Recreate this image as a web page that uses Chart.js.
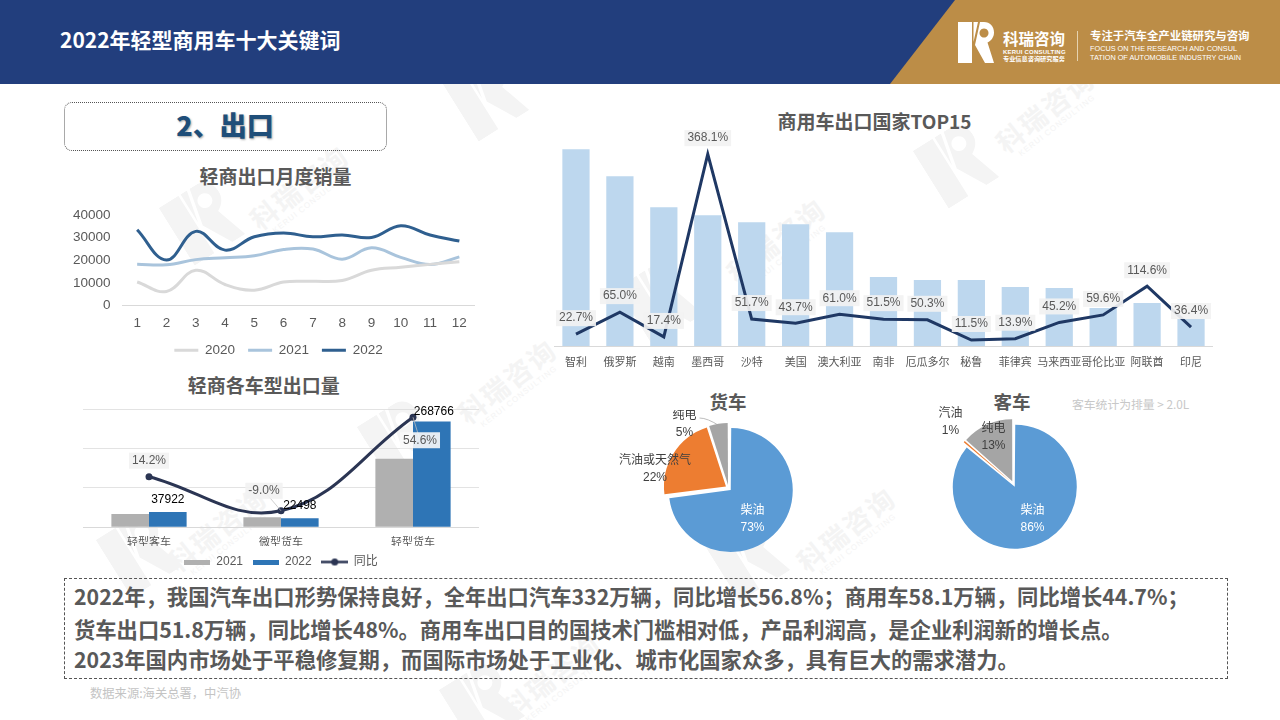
<!DOCTYPE html>
<html lang="zh-CN"><head><meta charset="utf-8">
<script src="https://cdn.jsdelivr.net/npm/chart.js@4/dist/chart.umd.min.js"></script>
<style>
html,body{margin:0;padding:0;background:#fff;}
#page{position:relative;width:1280px;height:720px;overflow:hidden;background:#fff;font-family:"Noto Sans CJK SC","Noto Sans",sans-serif;}
#page>*{position:absolute;}
canvas{position:absolute;display:block;}
.t{white-space:nowrap;line-height:1;}
.ttl{font-weight:700;color:#595959;transform:translate(-50%,-58%);white-space:nowrap;line-height:1;}
.body{left:74px;font-size:21.300px;font-weight:700;color:#595959;white-space:nowrap;line-height:1;transform:translateY(-58%);}
.wmR{width:60px;height:68px;color:#f4f4f4;transform:translate(-50%,-50%) rotate(-32deg);}
.wmT{color:#f4f4f4;font-weight:700;font-size:27px;letter-spacing:2px;transform:translate(-50%,-50%) rotate(-38deg);white-space:nowrap;text-align:center;line-height:1;}
.wmT small{display:block;font-size:8px;letter-spacing:1px;font-weight:400;margin-top:3px;font-family:"Liberation Sans";}
</style></head><body>
<div id="page">
  <svg width="0" height="0" style="position:absolute"><defs>
    <symbol id="rlogo" viewBox="0 0 36 41"><path fill="currentColor" fill-rule="evenodd" d="M0 0H14V41H0ZM15.5 0H20L15.5 20ZM22 0H26C32 0 36 4.500 36 10.500C36 15 33.500 18.500 29.500 20.500L36 41H27L17 23ZM26 6.500A4.500 4.500 0 1 0 26.010 6.500Z"/></symbol>
  </defs></svg>
  <div id="wm" style="left:0;top:0;width:1280px;height:720px"></div>

  <div style="left:0;top:0;width:1280px;height:84px;background:#223e7d"></div>
  <div style="left:0;top:0;width:1280px;height:84px;background:#bc8d47;clip-path:polygon(955px 0,1280px 0,1280px 84px,890px 84px)"></div>
  <div class="t" style="left:60px;top:41px;transform:translateY(-58%);font-size:21px;font-weight:700;color:#fff">2022年轻型商用车十大关键词</div>
  <svg style="left:958px;top:22px;width:36px;height:41px;color:#fff"><use href="#rlogo"/></svg>
  <div class="t" style="left:1003px;top:40px;transform:translateY(-58%);font-size:15.500px;font-weight:700;color:#fff">科瑞咨询</div>
  <div class="t" style="left:1003px;top:52px;transform:translateY(-50%);font-size:6px;font-weight:700;letter-spacing:.2px;color:#fff;font-family:'Liberation Sans'">KERUI CONSULTING</div>
  <div class="t" style="left:1003px;top:59px;transform:translateY(-50%);font-size:6.200px;font-weight:700;color:#fff">专业信息咨询研究服务</div>
  <div style="left:1077px;top:31px;width:1px;height:30px;background:#e6d3b0"></div>
  <div class="t" style="left:1090px;top:37px;transform:translateY(-58%);font-size:11.400px;font-weight:700;color:#fff">专注于汽车全产业链研究与咨询</div>
  <div class="t" style="left:1090px;top:49px;transform:translateY(-50%);font-size:7.300px;color:#fff;font-family:'Liberation Sans'">FOCUS ON THE RESEARCH AND CONSUL</div>
  <div class="t" style="left:1090px;top:58px;transform:translateY(-50%);font-size:7.300px;color:#fff;font-family:'Liberation Sans'">TATION OF AUTOMOBILE INDUSTRY CHAIN</div>

  <div style="left:64px;top:102px;width:321px;height:47px;border:1px dotted #555;border-radius:8px"></div>
  <div class="ttl" style="left:225px;top:127px;font-size:27px;font-weight:900;color:#1f4e79;text-shadow:1px 1px 2px rgba(60,60,60,.45)">2、出口</div>

  <div class="ttl" style="left:275.500px;top:177px;font-size:19px">轻商出口月度销量</div>
  <div class="ttl" style="left:263.700px;top:386px;font-size:19px">轻商各车型出口量</div>
  <div class="ttl" style="left:874.500px;top:122px;font-size:19px">商用车出口国家TOP15</div>
  <div class="ttl" style="left:728px;top:403px;font-size:18.500px">货车</div>
  <div class="ttl" style="left:1012px;top:403px;font-size:18.500px">客车</div>
  <div class="t" style="left:1072px;top:405px;transform:translateY(-58%);font-size:11.800px;color:#c8c8c8">客车统计为排量 &gt; 2.0L</div>

  <canvas id="c1" width="425" height="172" style="left:60px;top:195px"></canvas>
  <canvas id="c2" width="396" height="183" style="left:83px;top:395px"></canvas>
  <canvas id="c3" width="659" height="275" style="left:554px;top:100px"></canvas>
  <canvas id="c4" width="257" height="156" style="left:600px;top:410px"></canvas>
  <canvas id="c5" width="257" height="156" style="left:885px;top:406px"></canvas>

  <div style="left:64px;top:578px;width:1162px;height:99px;border:1px dashed #555"></div>
  <div class="body" style="top:597px">2022年，我国汽车出口形势保持良好，全年出口汽车332万辆，同比增长56.8%；商用车58.1万辆，同比增长44.7%；</div>
  <div class="body" style="top:630px">货车出口51.8万辆，同比增长48%。商用车出口目的国技术门槛相对低，产品利润高，是企业利润新的增长点。</div>
  <div class="body" style="top:660px">2023年国内市场处于平稳修复期，而国际市场处于工业化、城市化国家众多，具有巨大的需求潜力。</div>
  <div class="t" style="left:90px;top:694px;transform:translateY(-58%);font-size:12.300px;color:#c4c4c4">数据来源:海关总署，中汽协</div>
</div>
<script>
// ---------- data ----------
const months = ['1','2','3','4','5','6','7','8','9','10','11','12'];
const sales2020 = [10400,6200,15600,9300,6800,10400,10700,11100,15600,16900,18200,19400];
const sales2021 = [18200,18000,20300,21100,22000,24800,25000,20500,25500,21300,18100,21500];
const sales2022 = [33500,20100,32800,24500,30400,32100,30400,31200,30100,35300,31200,28500];
const monthlyYears = ['2020','2021','2022'];

const vehicleTypes = ['轻型客车','微型货车','轻型货车'];
const type2021 = [33207,24723,173846];
const type2022 = [37922,22498,268766];
const typeYoY = [14.2,-9.0,54.6];
const typeYoYText = ['14.2%','-9.0%','54.6%'];

const countries = ['智利','俄罗斯','越南','墨西哥','沙特','美国','澳大利亚','南非','厄瓜多尔','秘鲁','菲律宾','马来西亚','哥伦比亚','阿联酋','印尼'];
const countryVolume = [59100,51000,41700,39300,37200,36600,34200,20700,19800,19800,17700,17400,11400,12900,8100];
const countryYoY = [22.7,65.0,17.4,368.1,51.7,43.7,61.0,51.5,50.3,11.5,13.9,45.2,59.6,114.6,36.4];

const fuelTypes = ['柴油','汽油或天然气','纯电'];
const truckShare = [73,22,5];
const coachFuelTypes = ['柴油','汽油','纯电'];
const coachShare = [86,0.6,13.4];

// ---------- watermarks ----------
const wmLogos = [[202,221],[486,97],[956,164],[660,301],[400,440],[139,553],[747,557],[482,703]];
const wmTexts = [[302,191],[1048,114],[779,244],[510,385],[220,533],[849,533],[555,680]];
const wm = document.getElementById('wm');
wmLogos.forEach(p=>{wm.insertAdjacentHTML('beforeend',`<svg class="wmR" style="position:absolute;left:${p[0]}px;top:${p[1]}px"><use href="#rlogo"/></svg>`);});
wmTexts.forEach(p=>{wm.insertAdjacentHTML('beforeend',`<div class="wmT" style="position:absolute;left:${p[0]}px;top:${p[1]}px">科瑞咨询<small>KERUI CONSULTING</small></div>`);});

// ---------- chart setup ----------
const LATIN = '"Liberation Sans","Noto Sans CJK SC",sans-serif';
Chart.defaults.font.family = LATIN;
Chart.defaults.animation = false;
Chart.defaults.responsive = false;
Chart.defaults.color = '#595959';
Chart.defaults.plugins.tooltip.enabled = false;
Chart.defaults.devicePixelRatio = 1;
Chart.defaults.layout.autoPadding = false;
const AXIS = '#d9d9d9';
const fixH = h => s => { s.height = h; };
const fixW = w => s => { s.width = w; };

function tag(ctx, text, x, y, o){
  ctx.save();
  ctx.font = (o.size||12)+'px '+LATIN;
  ctx.textAlign='center'; ctx.textBaseline='middle';
  if(o.bg){
    const w = ctx.measureText(text).width + 6, h = 16;
    ctx.fillStyle = o.bg; ctx.fillRect(x-w/2,y-h/2,w,h);
  }
  ctx.fillStyle = o.color||'#595959';
  ctx.fillText(text,x,y);
  ctx.restore();
}

// chart 1
new Chart(document.getElementById('c1'),{
  type:'line',
  data:{labels:months,datasets:[
    {label:monthlyYears[0],data:sales2020,borderColor:'#d9d9d9',backgroundColor:'#d9d9d9'},
    {label:monthlyYears[1],data:sales2021,borderColor:'#a9c4dc',backgroundColor:'#a9c4dc'},
    {label:monthlyYears[2],data:sales2022,borderColor:'#2f5f8f',backgroundColor:'#2f5f8f'}
  ].map(d=>Object.assign(d,{borderWidth:3,pointRadius:0,tension:.4}))},
  options:{
    layout:{padding:{top:15,left:12,right:0,bottom:0}},
    scales:{
      x:{offset:true,afterFit:fixH(25),grid:{display:false,drawTicks:false},border:{color:AXIS},ticks:{padding:10,font:{size:13.5},color:'#595959'}},
      y:{min:0,max:40000,afterFit:fixW(50.5),grid:{display:false,drawTicks:false},border:{display:false},ticks:{stepSize:10000,padding:12,font:{size:13.5},color:'#595959',callback:v=>String(v)}},
      spacer:{position:'right',afterFit:fixW(11),grid:{display:false,drawTicks:false},border:{display:false},ticks:{display:false}}
    },
    plugins:{legend:{position:'bottom',labels:{usePointStyle:true,pointStyle:'line',pointStyleWidth:24,boxHeight:3,padding:13,font:{size:13.5},color:'#595959'}}}
  }
});

// chart 2
function legendSwatch(w,h,paint){const c=document.createElement('canvas');c.width=w;c.height=h;paint(c.getContext('2d'),w,h);return c;}
const rectSwatch = col => legendSwatch(26,5,(g,w,h)=>{g.fillStyle=col;g.fillRect(0,0,w,h);});
const lineSwatch = col => legendSwatch(27,9,(g,w,h)=>{g.strokeStyle=col;g.lineWidth=2.500;g.beginPath();g.moveTo(0,h/2);g.lineTo(w,h/2);g.stroke();g.fillStyle=col;g.beginPath();g.arc(w/2,h/2,3.500,0,7);g.fill();});
const typeSwatches = [rectSwatch('#b0b0b0'),rectSwatch('#2e75b6'),lineSwatch('#2b3553')];
const typeLabelShift = [[0,-16,false],[-17,-20,true],[7,23,true]];
new Chart(document.getElementById('c2'),{
  type:'bar',
  data:{labels:vehicleTypes,datasets:[
    {label:'2021',data:type2021,backgroundColor:'#b0b0b0',categoryPercentage:.57,barPercentage:1,order:2},
    {label:'2022',data:type2022,backgroundColor:'#2e75b6',categoryPercentage:.57,barPercentage:1,order:2},
    {type:'line',label:'同比',data:typeYoY,yAxisID:'y1',borderColor:'#2b3553',backgroundColor:'#2b3553',borderWidth:3,tension:.4,pointRadius:3.500,pointBackgroundColor:'#2b3553',pointBorderWidth:0,order:1}
  ]},
  options:{
    layout:{padding:{top:14.300,left:0,right:0,bottom:0}},
    scales:{
      x:{afterFit:fixH(19),grid:{display:false,drawTicks:false},border:{color:AXIS},ticks:{padding:9,font:{size:11},color:'#595959'}},
      y:{min:0,max:300000,afterFit:fixW(0),grid:{color:AXIS,lineWidth:.75,drawTicks:false},border:{display:false},ticks:{display:false,stepSize:100000}},
      y1:{display:false,min:-20,max:60}
    },
    plugins:{legend:{position:'bottom',labels:{usePointStyle:true,pointStyleWidth:26,boxHeight:9,padding:10,font:{size:12},color:'#595959',
      sort:(a,b)=>a.datasetIndex-b.datasetIndex,
      generateLabels:ch=>Chart.defaults.plugins.legend.labels.generateLabels(ch).map(it=>Object.assign(it,{pointStyle:typeSwatches[it.datasetIndex]}))}}}
  },
  plugins:[{id:'typeTags',afterDatasetsDraw(ch){
    const ctx=ch.ctx, bars=ch.getDatasetMeta(1).data, pts=ch.getDatasetMeta(2).data;
    type2022.forEach((v,i)=>tag(ctx,String(v),bars[i].x+(i==2?2:0),bars[i].y-(i==2?10:12),{color:'#000',size:12}));
    typeYoYText.forEach((t,i)=>{
      const s=typeLabelShift[i], p=pts[i], x=p.x+s[0], y=p.y+s[1];
      if(s[2]){ctx.save();ctx.strokeStyle='#bfbfbf';ctx.lineWidth=.75;ctx.beginPath();ctx.moveTo(p.x,p.y);ctx.lineTo(x,y);ctx.stroke();ctx.restore();}
      tag(ctx,t,x,y,{bg:i==2?'rgba(250,250,250,.9)':'rgba(242,242,242,.9)',size:12});
    });
  }}]
});

// chart 3
new Chart(document.getElementById('c3'),{
  type:'bar',
  data:{labels:countries,datasets:[
    {label:'出口量',data:countryVolume,backgroundColor:'#bdd7ee',categoryPercentage:.62,barPercentage:1,order:2},
    {type:'line',label:'同比',data:countryYoY,yAxisID:'y1',borderColor:'#1f3864',borderWidth:3,tension:0,pointRadius:0,order:1}
  ]},
  options:{
    layout:{padding:{top:13,left:0,right:0,bottom:0}},
    scales:{
      x:{afterFit:fixH(29),grid:{display:false,drawTicks:false},border:{color:AXIS},ticks:{autoSkip:false,maxRotation:0,minRotation:0,padding:10,font:{size:11},color:'#595959'}},
      y:{display:false,min:0,max:70000},
      y1:{display:false,min:0,max:447}
    },
    plugins:{legend:{display:false}}
  },
  plugins:[{id:'yoyTags',afterDatasetsDraw(ch){
    const pts=ch.getDatasetMeta(1).data;
    countryYoY.forEach((v,i)=>tag(ch.ctx,v.toFixed(1)+'%',pts[i].x,pts[i].y-16,{bg:'rgba(242,242,242,.92)'}));
  }}]
});

// pies
const pieColors = ['#5b9bd5','#ed7d31','#a5a5a5'];
function pie(id,labels,values,marks,leader){
  new Chart(document.getElementById(id),{
    type:'pie',
    data:{labels,datasets:[{data:values,backgroundColor:pieColors,borderWidth:0,offset:12}]},
    options:{plugins:{legend:{display:false}},layout:{padding:0}},
    plugins:[{id:'explode',
      beforeDatasetDraw(ch,a){a.meta.data.forEach(arc=>{
        const off=12/4, fix=1-Math.sin(Math.min(Math.PI,arc.circumference));
        arc.outerRadius=62-off*fix; arc.innerRadius=0;
      });},
      afterDatasetsDraw(ch){
        const c=ch.ctx, A=ch.getDatasetMeta(0).data[0], cx=A.x, cy=A.y;
        if(leader){c.save();c.strokeStyle='#a6a6a6';c.lineWidth=.75;c.beginPath();c.moveTo(cx+leader[0],cy+leader[1]);c.quadraticCurveTo(cx+leader[0]+8,cy+leader[1],cx+leader[2],cy+leader[3]);c.stroke();c.restore();}
        labels.forEach((l,i)=>{
          const m=marks[i], col=i==0?'#fff':'#404040';
          tag(c,l,cx+m[0],cy+m[1],{color:col});
          tag(c,Math.round(values[i])+'%',cx+m[0],cy+m[1]+17,{color:col});
        });
      }}]
  });
}
pie('c4',fuelTypes,truckShare,[[24,23],[-73.500,-27],[-44,-72]],[-29,-70,-9,-62]);
pie('c5',coachFuelTypes,coachShare,[[19,27],[-63,-70],[-20,-55]],null);
</script>
</body></html>
